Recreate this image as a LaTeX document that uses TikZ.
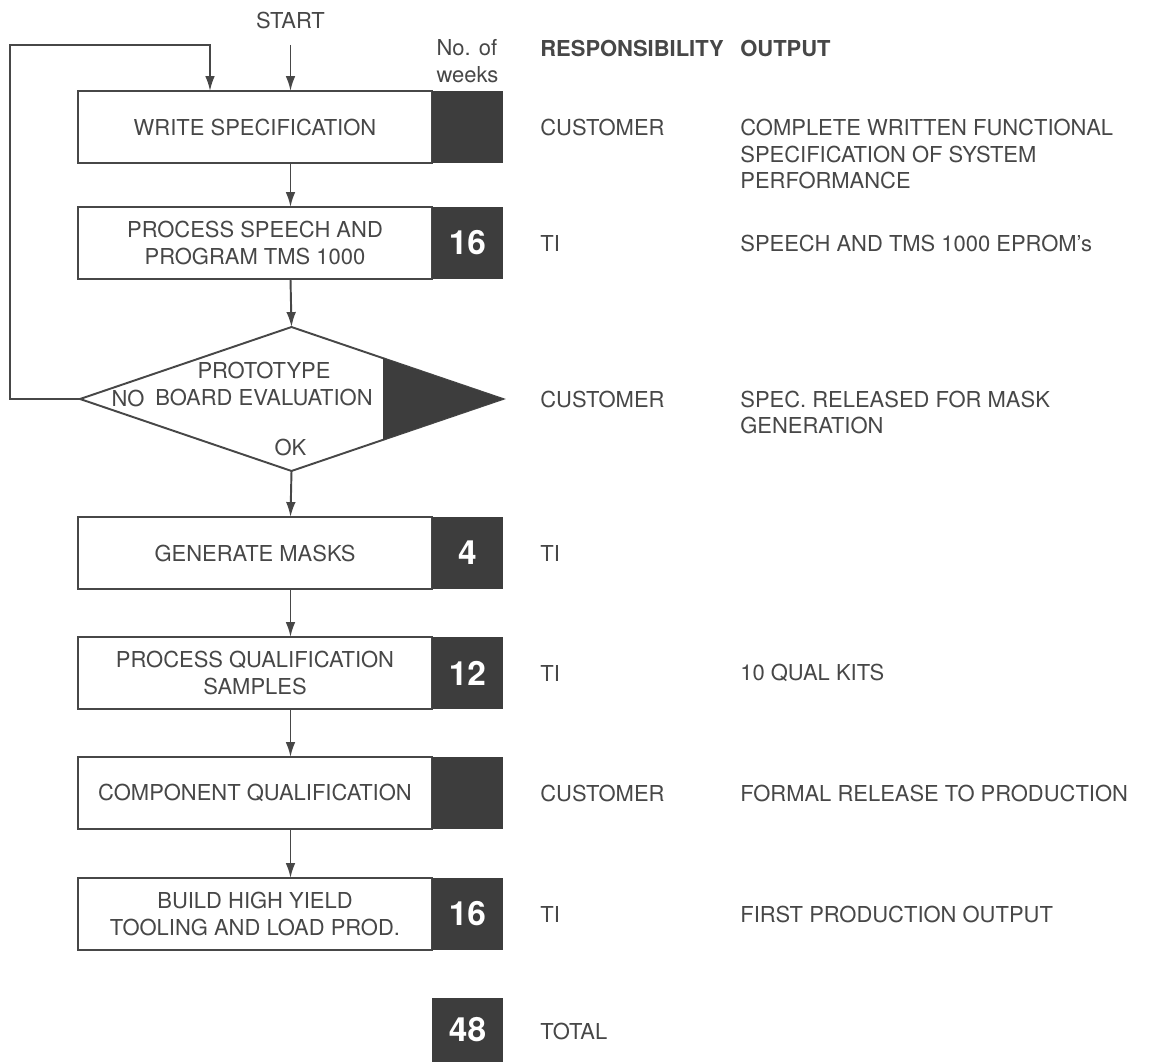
\documentclass[tikz,border=0pt]{standalone}
\usepackage{fontspec}
\setmainfont{TeX Gyre Heros}
\usetikzlibrary{positioning,shapes.geometric,arrows.meta,calc}

\definecolor{ink}{gray}{0.28}
\definecolor{blk}{gray}{0.24}

\tikzset{
  stage/.style={draw=ink, line width=1.1pt, minimum width=7.08cm, minimum height=1.44cm,
    align=center, inner sep=0pt, outer sep=0pt},
  weeks/.style={fill=blk, minimum width=1.42cm, minimum height=1.44cm, inner sep=0pt,
    outer sep=0pt, text=white, font=\fontsize{19}{19}\selectfont\bfseries},
  flow/.style={draw=ink, line width=1.1pt, -{Latex[length=8.5pt,width=5.5pt]}},
  col/.style={anchor=west, inner sep=0pt},
  colx/.style={anchor=base west, align=left, inner sep=0pt},
  head/.style={anchor=west, inner sep=0pt, font=\fontsize{12.5}{15.3}\selectfont\bfseries},
}

\begin{document}
\begin{tikzpicture}[x=0.02cm, y=-0.02cm, font=\fontsize{12.5}{15.3}\selectfont, text=ink]
  \useasboundingbox (0,0) rectangle (1157,1064);
  \coordinate (mid) at (290.5,0);

  % headings
  \node (start) at (290.5,20) {START};
  \node[align=left, inner sep=0pt] (nweeks) at (467.5,61) {No. of\\weeks};
  \node[head] (resp) at (540,48) {RESPONSIBILITY};
  \node[head] (outp) at (740,48) {OUTPUT};

  % steps
  \node[stage] (spec) at (255,127) {WRITE SPECIFICATION};
  \node[weeks, right=0pt of spec] (spec-n) {};
  \node[stage] (speech) at (255,243) {PROCESS SPEECH AND\\PROGRAM TMS 1000};
  \node[weeks, right=0pt of speech] (speech-n) {16};

  \node[diamond, draw=ink, line width=1.1pt, minimum width=8.46cm, minimum height=2.88cm,
    inner sep=0pt, outer sep=0pt] (proto) at (291.5,399) {};
  \fill[blk] ($(proto.north)!0.433!(proto.east)$) -- (proto.east)
    -- ($(proto.south)!0.433!(proto.east)$) -- cycle;
  \node[align=center] (proto-t) at (264,384) {PROTOTYPE\\BOARD EVALUATION};
  \node (no) at (128,398) {NO};
  \node (ok) at (290.5,447) {OK};

  \node[stage] (masks) at (255,553) {GENERATE MASKS};
  \node[weeks, right=0pt of masks] (masks-n) {4};
  \node[stage] (qual) at (255,673) {PROCESS QUALIFICATION\\SAMPLES};
  \node[weeks, right=0pt of qual] (qual-n) {12};
  \node[stage] (comp) at (255,793) {COMPONENT QUALIFICATION};
  \node[weeks, right=0pt of comp] (comp-n) {};
  \node[stage] (build) at (255,914) {BUILD HIGH YIELD\\TOOLING AND LOAD PROD.};
  \node[weeks, right=0pt of build] (build-n) {16};

  \node[weeks, minimum height=1.28cm] (total) at (467.5,1030) {48};
  \node[col] (total-t) at (540,1031) {TOTAL};

  % responsibility
  \foreach \y/\who in {127/CUSTOMER, 243/TI, 399/CUSTOMER, 553/TI, 673/TI, 793/CUSTOMER, 914/TI}
    \node[col] (who-\y) at (540,\y) {\who};

  % output (base = last line)
  \node[colx] (out-spec) at (740,189) {COMPLETE WRITTEN FUNCTIONAL\\SPECIFICATION OF SYSTEM\\PERFORMANCE};
  \node[col] (out-speech) at (740,243) {SPEECH AND TMS 1000 EPROM's};
  \node[colx] (out-proto) at (740,434) {SPEC. RELEASED FOR MASK\\GENERATION};
  \node[col] (out-qual) at (740,673) {10 QUAL KITS};
  \node[col] (out-comp) at (740,793) {FORMAL RELEASE TO PRODUCTION};
  \node[col] (out-build) at (740,914) {FIRST PRODUCTION OUTPUT};

  % connectors
  \coordinate (in) at (290.5,45);
  \coordinate (corner) at (10,45);
  \coordinate (back) at (210,45);
  \draw[flow] (in) -- (spec.north -| mid);
  \draw[flow] (proto.west) -| (corner) -- (back) -- (back |- spec.north);
  \draw[flow] (spec.south -| mid) -- (speech.north -| mid);
  \draw[flow] (speech.south -| mid) -- (proto.north);
  \draw[flow] (proto.south) -- (masks.north -| mid);
  \draw[flow] (masks.south -| mid) -- (qual.north -| mid);
  \draw[flow] (qual.south -| mid) -- (comp.north -| mid);
  \draw[flow] (comp.south -| mid) -- (build.north -| mid);
\end{tikzpicture}
\end{document}
